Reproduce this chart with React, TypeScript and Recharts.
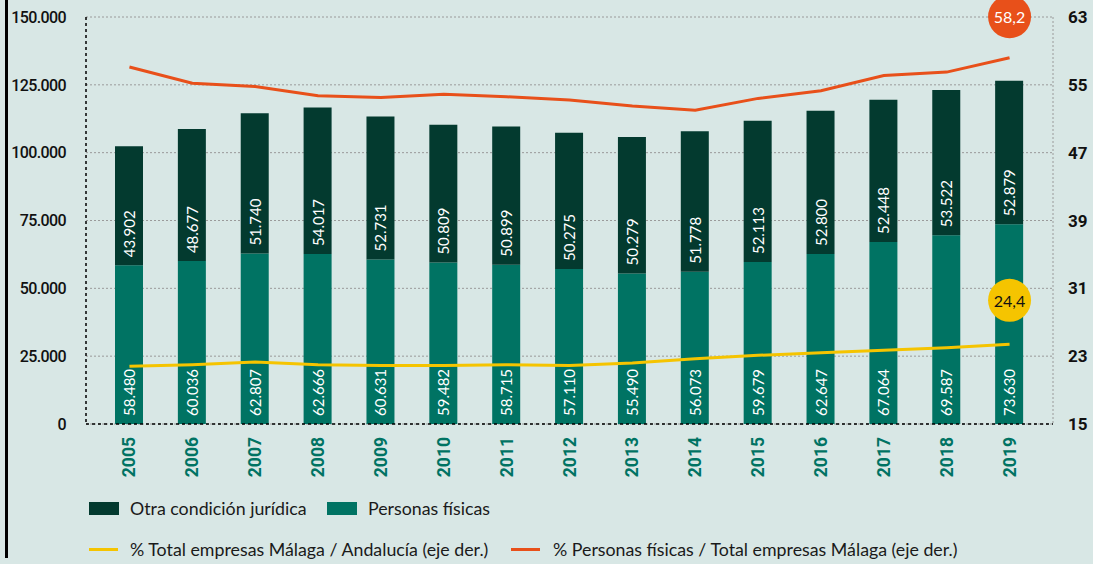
import React from "react";
import {
  ComposedChart,
  Bar,
  Line,
  XAxis,
  YAxis,
  CartesianGrid,
  LabelList,
} from "recharts";

const years = ["2005", "2006", "2007", "2008", "2009", "2010", "2011", "2012", "2013", "2014", "2015", "2016", "2017", "2018", "2019"];
const personasFisicas = [58480, 60036, 62807, 62666, 60631, 59482, 58715, 57110, 55490, 56073, 59679, 62647, 67064, 69587, 73630];
const otraCondicion = [43902, 48677, 51740, 54017, 52731, 50809, 50899, 50275, 50279, 51778, 52113, 52800, 52448, 53522, 52879];
const pctMalagaAndalucia = [21.8, 22.0, 22.3, 22.0, 21.9, 21.9, 22.0, 21.9, 22.2, 22.7, 23.1, 23.4, 23.7, 24.0, 24.4];
const pctPersonasFisicas = [57.1, 55.2, 54.8, 53.7, 53.5, 53.9, 53.6, 53.2, 52.5, 52.0, 53.4, 54.3, 56.1, 56.5, 58.2];

const leftTicks = [0, 25000, 50000, 75000, 100000, 125000, 150000];
const rightTicks = [15, 23, 31, 39, 47, 55, 63];

const data = years.map((year, i) => ({
  year,
  personas: personasFisicas[i],
  otra: otraCondicion[i],
  malaga: pctMalagaAndalucia[i],
  pf: pctPersonasFisicas[i],
}));

const BG = "#d8e7e5";
const DARK = "#033a2f";
const TEAL = "#007363";
const ORANGE = "#e8501a";
const YELLOW = "#f5c400";
const FONT = "Lato, 'Open Sans', sans-serif";

const thousands = (n: number) => String(n).replace(/\B(?=(\d{3})+(?!\d))/g, ".");

const BarValueLabel = (props: any) => {
  const { x, y, width, height, value } = props;
  const cx = Number(x) + Number(width) / 2;
  const by = Number(y) + Number(height) - 8;
  return (
    <text
      transform={`translate(${cx},${by}) rotate(-90)`}
      textAnchor="start"
      dominantBaseline="central"
      fill="#fff"
      fontSize={15}
      fontFamily={FONT}
    >
      {thousands(Number(value))}
    </text>
  );
};

const YearTick = (props: any) => {
  const { x, y, payload } = props;
  return (
    <text
      transform={`translate(${x},${y + 11}) rotate(-90)`}
      textAnchor="end"
      dominantBaseline="central"
      fill={TEAL}
      fontSize={17.5}
      fontWeight={700}
      fontFamily="Roboto, sans-serif"
    >
      {payload.value}
    </text>
  );
};

// last point of each line gets a round bubble with its value
const bubbleDot = (color: string, textColor: string, lift: number) => (props: any) => {
  const { cx, cy, index, value } = props;
  if (index !== years.length - 1) return <g key={`d${index}`} />;
  const v = Array.isArray(value) ? value[1] : value;
  return (
    <g key={`d${index}`}>
      <circle cx={cx} cy={cy - lift} r={21.5} fill={color} />
      <text
        x={cx}
        y={cy - lift}
        textAnchor="middle"
        dominantBaseline="central"
        fill={textColor}
        fontSize={16}
        fontFamily={FONT}
      >
        {String(v).replace(".", ",")}
      </text>
    </g>
  );
};

const legendText: React.CSSProperties = {
  position: "absolute",
  fontFamily: FONT,
  fontSize: 17.8,
  color: "#1a1a1a",
  lineHeight: "20px",
  whiteSpace: "nowrap",
};

export default function App() {
  return (
    <div style={{ position: "relative", width: 1093, height: 564, background: BG, overflow: "hidden" }}>
      <style>{`body{margin:0}`}</style>
      <div style={{ position: "absolute", left: 5, top: 0, width: 2.5, height: 558, background: "#000" }} />
      <ComposedChart
        width={1093}
        height={564}
        data={data}
        margin={{ top: 17, right: 0, left: 0, bottom: 80 }}
        barCategoryGap={0}
      >
        <CartesianGrid yAxisId="left" vertical={false} stroke="#9a9a9a" strokeDasharray="2 2" />
        <XAxis
          dataKey="year"
          height={60}
          padding={{ left: 12, right: 12 }}
          tickLine={false}
          tickSize={0}
          axisLine={{ stroke: "#000", strokeDasharray: "3 3", strokeWidth: 1.5 }}
          tick={<YearTick />}
          interval={0}
        />
        <YAxis
          yAxisId="left"
          width={86}
          domain={[0, 150000]}
          ticks={leftTicks}
          tickFormatter={(v: number) => thousands(v)}
          tickLine={false}
          tickSize={0}
          tickMargin={20}
          axisLine={{ stroke: "#000", strokeDasharray: "3 3", strokeWidth: 1.5 }}
          tick={{ fill: "#111", fontSize: 16, fontWeight: 500, fontFamily: "Roboto, sans-serif", letterSpacing: -0.6 }}
        />
        <YAxis
          yAxisId="right"
          orientation="right"
          width={40}
          domain={[15, 63]}
          ticks={rightTicks}
          tickLine={false}
          tickSize={0}
          tickMargin={15}
          axisLine={{ stroke: "#9a9a9a", strokeDasharray: "2 2" }}
          tick={{ fill: "#111", fontSize: 17, fontWeight: 700, fontFamily: "Roboto, sans-serif", textAnchor: "start" }}
        />
        <Bar dataKey="personas" stackId="a" yAxisId="left" fill={TEAL} barSize={28} isAnimationActive={false}>
          <LabelList dataKey="personas" content={<BarValueLabel />} />
        </Bar>
        <Bar dataKey="otra" stackId="a" yAxisId="left" fill={DARK} barSize={28} isAnimationActive={false}>
          <LabelList dataKey="otra" content={<BarValueLabel />} />
        </Bar>
        <Line
          dataKey="malaga"
          yAxisId="right"
          type="linear"
          stroke={YELLOW}
          strokeWidth={3}
          dot={bubbleDot(YELLOW, "#111", 44)}
          activeDot={false}
          isAnimationActive={false}
        />
        <Line
          dataKey="pf"
          yAxisId="right"
          type="linear"
          stroke={ORANGE}
          strokeWidth={3}
          dot={bubbleDot(ORANGE, "#fff", 41)}
          activeDot={false}
          isAnimationActive={false}
        />
      </ComposedChart>

      <div style={{ position: "absolute", left: 89, top: 502, width: 30, height: 13, background: DARK }} />
      <div style={{ ...legendText, left: 130, top: 498 }}>Otra condición jurídica</div>
      <div style={{ position: "absolute", left: 327, top: 502, width: 30, height: 13, background: TEAL }} />
      <div style={{ ...legendText, left: 368, top: 498 }}>Personas físicas</div>

      <div style={{ position: "absolute", left: 89, top: 547.5, width: 29, height: 3, background: YELLOW }} />
      <div style={{ ...legendText, left: 130, top: 539 }}>% Total empresas Málaga / Andalucía (eje der.)</div>
      <div style={{ position: "absolute", left: 511, top: 547.5, width: 29, height: 3, background: ORANGE }} />
      <div style={{ ...legendText, left: 553, top: 539 }}>% Personas físicas / Total empresas Málaga (eje der.)</div>
    </div>
  );
}
